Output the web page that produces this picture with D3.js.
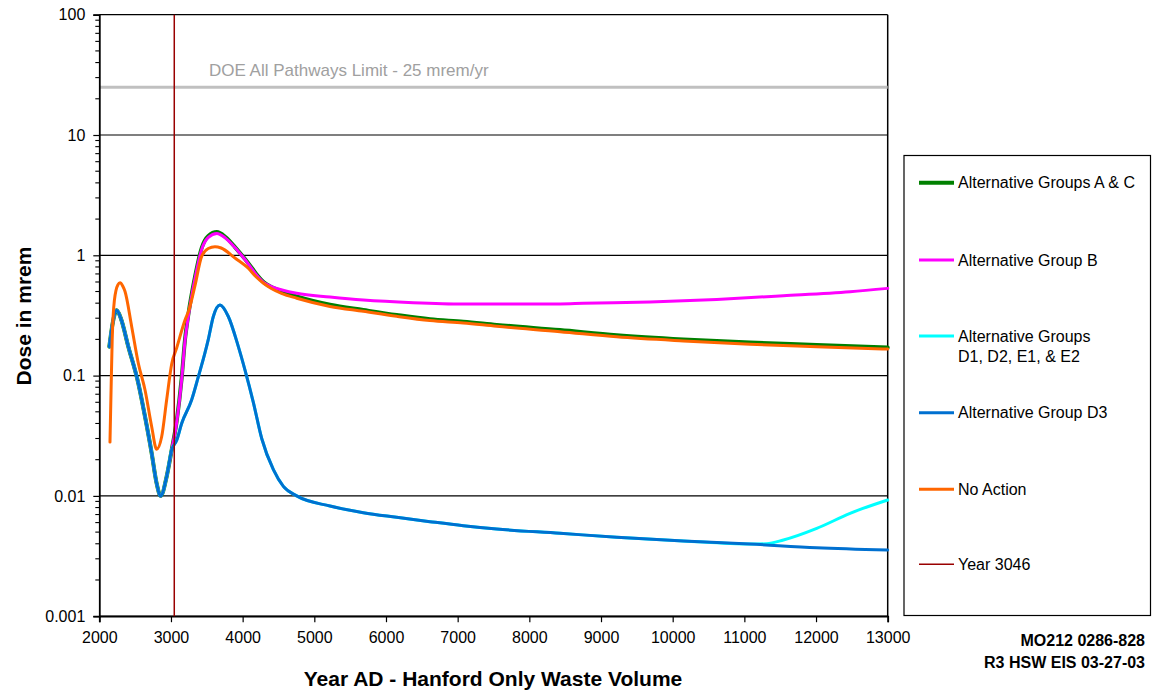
<!DOCTYPE html>
<html>
<head>
<meta charset="utf-8">
<script src="https://cdn.jsdelivr.net/npm/d3@7"></script>
<style>
  html, body { margin: 0; padding: 0; background: #ffffff; }
  svg { display: block; font-family: "Liberation Sans", Arial, sans-serif; }
</style>
</head>
<body>
<svg id="chart" width="1153" height="693"></svg>
<script>
// Dose (mrem) by calendar year, Hanford-only waste volume
const xTicks = [2000, 3000, 4000, 5000, 6000, 7000, 8000, 9000, 10000, 11000, 12000, 13000];
const yTicks = [0.001, 0.01, 0.1, 1, 10, 100];
const yTickLabels = ["0.001", "0.01", "0.1", "1", "10", "100"];

const doeLimit = 25;
const doeLabel = "DOE All Pathways Limit - 25 mrem/yr";
const markerYear = 3046;

const seriesNames = [
  "Alternative Groups A & C",
  "Alternative Group B",
  "Alternative Groups|D1, D2, E1, & E2",
  "Alternative Group D3",
  "No Action",
  "Year 3046"
];

const groupsAC = [
  [2140, 0.174], [2190, 0.28], [2242, 0.35], [2300, 0.30], [2405, 0.174], [2545, 0.086],
  [2638, 0.0455], [2731, 0.0226], [2800, 0.0127], [2856, 0.0100], [2940, 0.0145],
  [3010, 0.0241], [3080, 0.042], [3149, 0.095], [3196, 0.20], [3242, 0.32], [3335, 0.66],
  [3428, 1.15], [3521, 1.45], [3640, 1.56], [3760, 1.42], [3893, 1.17], [3990, 1.0],
  [4079, 0.86], [4190, 0.70], [4291, 0.60], [4400, 0.545], [4550, 0.50], [4754, 0.455],
  [5219, 0.388], [5684, 0.351], [6149, 0.319], [6614, 0.294], [7079, 0.281], [7545, 0.264],
  [8428, 0.239], [9219, 0.217], [10149, 0.200], [11079, 0.188], [12010, 0.180], [13000, 0.171]
];

const groupB = [
  [2140, 0.174], [2190, 0.28], [2242, 0.35], [2300, 0.30], [2405, 0.174], [2545, 0.086],
  [2638, 0.0455], [2731, 0.0226], [2800, 0.0127], [2856, 0.0100], [2940, 0.0145],
  [3010, 0.0241], [3080, 0.041], [3149, 0.093], [3196, 0.195], [3242, 0.31], [3335, 0.64],
  [3428, 1.12], [3521, 1.41], [3640, 1.52], [3760, 1.39], [3893, 1.16], [3990, 0.99],
  [4079, 0.85], [4190, 0.69], [4291, 0.595], [4400, 0.55], [4550, 0.515], [4754, 0.483],
  [5219, 0.45], [5684, 0.425], [6381, 0.404], [7079, 0.394], [8428, 0.394], [8753, 0.399],
  [9684, 0.41], [10614, 0.43], [11545, 0.461], [12475, 0.498], [13000, 0.531]
];

const groupsD1E = [
  [2140, 0.174], [2190, 0.28], [2242, 0.35], [2300, 0.30], [2405, 0.174], [2545, 0.086],
  [2638, 0.0455], [2731, 0.0226], [2800, 0.0127], [2856, 0.0100], [2940, 0.0145],
  [3010, 0.0241], [3080, 0.029], [3149, 0.040], [3289, 0.063], [3382, 0.098], [3475, 0.155],
  [3521, 0.20], [3591, 0.31], [3684, 0.386], [3800, 0.31], [3940, 0.174], [4033, 0.111],
  [4149, 0.060], [4266, 0.030], [4429, 0.0165], [4568, 0.0120], [4754, 0.0100],
  [5219, 0.00824], [5684, 0.00725], [6149, 0.00664], [6614, 0.00611], [7079, 0.00565],
  [7545, 0.0053], [8428, 0.00489], [9219, 0.00453], [10149, 0.00422], [11079, 0.00398],
  [11312, 0.0040], [11545, 0.0043], [12010, 0.00537], [12475, 0.00716], [13000, 0.00924]
];

const groupD3 = [
  [2140, 0.174], [2190, 0.28], [2242, 0.35], [2300, 0.30], [2405, 0.174], [2545, 0.086],
  [2638, 0.0455], [2731, 0.0226], [2800, 0.0127], [2856, 0.0100], [2940, 0.0145],
  [3010, 0.0241], [3080, 0.029], [3149, 0.040], [3289, 0.063], [3382, 0.098], [3475, 0.155],
  [3521, 0.20], [3591, 0.31], [3684, 0.386], [3800, 0.31], [3940, 0.174], [4033, 0.111],
  [4149, 0.060], [4266, 0.030], [4429, 0.0165], [4568, 0.0120], [4754, 0.0100],
  [5219, 0.00824], [5684, 0.00725], [6149, 0.00664], [6614, 0.00611], [7079, 0.00565],
  [7545, 0.0053], [8428, 0.00489], [9219, 0.00453], [10149, 0.00422], [11079, 0.00398],
  [12010, 0.00371], [13000, 0.00355]
];

const noAction = [
  [2149, 0.028], [2165, 0.08], [2180, 0.2], [2210, 0.42], [2260, 0.57], [2289, 0.59],
  [2330, 0.55], [2359, 0.50], [2452, 0.255], [2545, 0.126], [2638, 0.076], [2731, 0.0376],
  [2800, 0.0244], [2870, 0.031], [2940, 0.063], [3010, 0.125], [3080, 0.17], [3196, 0.29],
  [3250, 0.35], [3335, 0.56], [3428, 0.98], [3520, 1.14], [3614, 1.18], [3700, 1.15],
  [3893, 0.95], [4079, 0.78], [4190, 0.66], [4291, 0.585], [4400, 0.53], [4550, 0.48],
  [4754, 0.44], [5219, 0.376], [5684, 0.342], [6149, 0.311], [6614, 0.287], [7079, 0.274],
  [7545, 0.257], [8428, 0.232], [9219, 0.210], [10149, 0.194], [11079, 0.182], [12010, 0.174],
  [13000, 0.166]
];

const seriesData = [groupsAC, groupB, groupsD1E, groupD3, noAction];
const seriesColors = ["#008000", "#ff00ff", "#00ffff", "#0070d0", "#ff6600", "#990000"];
const seriesWidths = [4, 3, 3, 3, 3, 1.5];

const svg = d3.select("#chart");
const plot = { left: 99.3, right: 887.7, top: 14.7, bottom: 616.2 };

const x = d3.scaleLinear().domain([2000, 13000]).range([plot.left, plot.right]);
const y = d3.scaleLog().domain([0.001, 100]).range([plot.bottom, plot.top]);

// horizontal gridlines at each decade
svg.append("g")
  .selectAll("line")
  .data(yTicks)
  .join("line")
  .attr("x1", plot.left).attr("x2", plot.right)
  .attr("y1", d => y(d)).attr("y2", d => y(d))
  .attr("stroke", "#000").attr("stroke-width", 1.2);

// right frame edge
svg.append("line")
  .attr("x1", plot.right).attr("x2", plot.right)
  .attr("y1", plot.top).attr("y2", plot.bottom)
  .attr("stroke", "#000").attr("stroke-width", 1.5);

// DOE limit line and label
svg.append("line")
  .attr("x1", plot.left).attr("x2", plot.right)
  .attr("y1", y(doeLimit)).attr("y2", y(doeLimit))
  .attr("stroke", "#c0c0c0").attr("stroke-width", 3);
svg.append("text")
  .attr("x", 209).attr("y", 76)
  .attr("font-size", "17px").attr("fill", "#a0a0a0")
  .text(doeLabel);

// y axis: major and minor ticks
const yAxis = d3.axisLeft(y)
  .tickValues(yTicks)
  .tickFormat((d, i) => yTickLabels[i])
  .tickSize(6).tickPadding(8);
const gy = svg.append("g").attr("transform", `translate(${plot.left},0)`).call(yAxis);
gy.select(".domain").attr("stroke-width", 1.8);
gy.selectAll(".tick line").attr("stroke-width", 1.2);
gy.selectAll(".tick text").attr("font-size", "16px").attr("fill", "#000")
  .attr("font-family", "Liberation Sans, Arial, sans-serif");

const minorTicks = [];
for (let e = -3; e < 2; e++) {
  for (let m = 2; m <= 9; m++) minorTicks.push(m * Math.pow(10, e));
}
svg.append("g")
  .selectAll("line")
  .data(minorTicks)
  .join("line")
  .attr("x1", plot.left - 4).attr("x2", plot.left)
  .attr("y1", d => y(d)).attr("y2", d => y(d))
  .attr("stroke", "#000").attr("stroke-width", 1.1);

// x axis
const xAxis = d3.axisBottom(x)
  .tickValues(xTicks)
  .tickFormat(d3.format("d"))
  .tickSize(6).tickPadding(9);
const gx = svg.append("g").attr("transform", `translate(0,${plot.bottom})`).call(xAxis);
gx.select(".domain").attr("stroke-width", 1.8);
gx.selectAll(".tick line").attr("stroke-width", 1.2);
gx.selectAll(".tick text").attr("font-size", "16px").attr("fill", "#000")
  .attr("font-family", "Liberation Sans, Arial, sans-serif");

// series curves
const line = d3.line()
  .x(d => x(d[0]))
  .y(d => y(d[1]))
  .curve(d3.curveMonotoneX);

svg.append("g")
  .selectAll("path")
  .data(seriesData)
  .join("path")
  .attr("d", d => line(d))
  .attr("fill", "none")
  .attr("stroke", (d, i) => seriesColors[i])
  .attr("stroke-width", (d, i) => seriesWidths[i])
  .attr("stroke-linejoin", "round")
  .attr("stroke-linecap", "round");

// Year 3046 marker
svg.append("line")
  .attr("x1", x(markerYear)).attr("x2", x(markerYear))
  .attr("y1", plot.top).attr("y2", plot.bottom)
  .attr("stroke", seriesColors[5]).attr("stroke-width", 1.5);

// axis titles
svg.append("text")
  .attr("transform", "translate(31,316) rotate(-90)")
  .attr("text-anchor", "middle")
  .attr("font-size", "21px").attr("font-weight", "bold")
  .text("Dose in mrem");
svg.append("text")
  .attr("x", 493).attr("y", 686)
  .attr("text-anchor", "middle")
  .attr("font-size", "21px").attr("font-weight", "bold")
  .text("Year AD - Hanford Only Waste Volume");

// figure reference
svg.append("text")
  .attr("x", 1145).attr("y", 646).attr("text-anchor", "end")
  .attr("font-size", "16px").attr("font-weight", "bold")
  .text("MO212 0286-828");
svg.append("text")
  .attr("x", 1145).attr("y", 668).attr("text-anchor", "end")
  .attr("font-size", "16px").attr("font-weight", "bold")
  .text("R3 HSW EIS 03-27-03");

// legend
const legend = svg.append("g");
legend.append("rect")
  .attr("x", 904).attr("y", 155.5).attr("width", 246.5).attr("height", 460)
  .attr("fill", "#fff").attr("stroke", "#000").attr("stroke-width", 1.2);

const legendY = [182.7, 260, 336, 412.7, 489.3, 564.3];
const items = legend.selectAll("g.item")
  .data(seriesNames)
  .join("g")
  .attr("class", "item")
  .attr("transform", (d, i) => `translate(0,${legendY[i]})`);
items.append("line")
  .attr("x1", 919).attr("x2", 954)
  .attr("y1", 0).attr("y2", 0)
  .attr("stroke", (d, i) => seriesColors[i])
  .attr("stroke-width", (d, i) => seriesWidths[i]);
items.append("text")
  .attr("x", 958).attr("y", 0)
  .attr("font-size", "16px")
  .each(function (d) {
    const parts = d.split("|");
    const t = d3.select(this);
    parts.forEach((p, k) => {
      t.append("tspan").attr("x", 958).attr("dy", k === 0 ? "0.35em" : "1.3em").text(p);
    });
  });
</script>
</body>
</html>
